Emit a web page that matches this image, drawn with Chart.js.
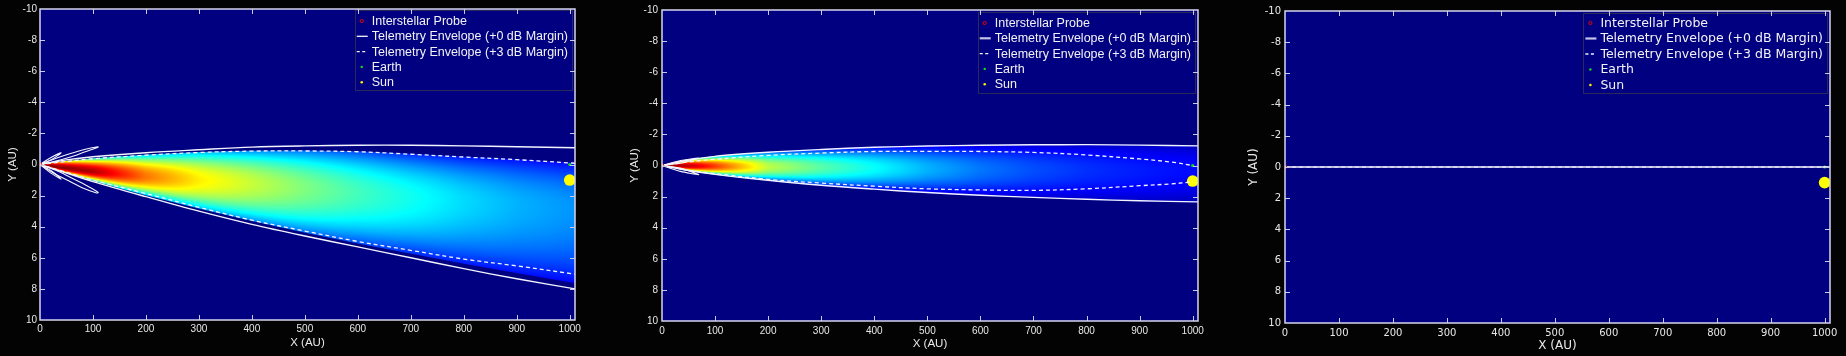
<!DOCTYPE html>
<html><head><meta charset="utf-8">
<script src="https://cdn.jsdelivr.net/npm/chart.js@4.4.1/dist/chart.umd.min.js"></script>
<style>
html,body{margin:0;padding:0;background:#030303;width:1846px;height:356px;overflow:hidden}
canvas{position:absolute;top:0}
</style></head><body>
<canvas id="c1" width="590" height="356" style="left:0px"></canvas>
<canvas id="c2" width="590" height="356" style="left:620px"></canvas>
<canvas id="c3" width="606" height="356" style="left:1240px"></canvas>
<script>
// ---------- DATA ----------
const xTickLabels = [0,100,200,300,400,500,600,700,800,900,1000];
const yTickLabels = [-10,-8,-6,-4,-2,0,2,4,6,8,10];
const legendLabels = ['Interstellar Probe','Telemetry Envelope (+0 dB Margin)','Telemetry Envelope (+3 dB Margin)','Earth','Sun'];

const envX = [0,50,100,200,300,400,500,600,700,800,900,1010];

// Panel 1
const p1SolidUpper = [0,-0.3,-0.5,-0.76,-0.95,-1.12,-1.2,-1.24,-1.24,-1.2,-1.14,-1.08];
const p1SolidLower = [0,0.55,1.1,2.07,3.0,3.85,4.6,5.3,6.0,6.7,7.35,8.0];
const p1DashUpper  = [0,-0.2,-0.37,-0.6,-0.77,-0.86,-0.87,-0.82,-0.66,-0.48,-0.31,-0.08];
const p1DashLower  = [0,0.5,1.0,1.87,2.75,3.58,4.28,4.95,5.52,6.08,6.52,7.05];
const p1FieldTop    = [0,-0.2,-0.37,-0.6,-0.77,-0.86,-0.87,-0.82,-0.66,-0.48,-0.31,-0.08];
const p1FieldBottom = [0,0.52,1.03,1.95,2.8,3.6,4.35,5.05,5.7,6.35,6.95,7.6];
const p1FieldCenter = [0,0.25,0.45,0.78,1.0,1.23,1.5,1.8,2.1,2.35,2.6,2.8];
const p1FieldPeak   = [0.99,0.98,0.95,0.76,0.64,0.57,0.5,0.44,0.39,0.34,0.3,0.27];
const p1FieldEdge   = [0.9,0.62,0.42,0.33,0.31,0.27,0.24,0.2,0.17,0.15,0.14,0.13];
const p1LobeUpBigX = [0,28,56,84,104,110,106,84,56,28,0];
const p1LobeUpBigY = [0,-0.37,-0.69,-0.97,-1.11,-1.13,-1.06,-0.8,-0.46,-0.2,0];
const p1LobeLoBigX = [0,27,54,82,104,110,106,85,57,29,0];
const p1LobeLoBigY = [0,0.58,1.05,1.53,1.8,1.82,1.7,1.3,0.82,0.36,0];
const p1LobeUpSmX = [0,20,40,22,0];
const p1LobeUpSmY = [0,-0.44,-0.75,-0.32,0];
const p1LobeLoSmX = [0,20,40,22,0];
const p1LobeLoSmY = [0,0.54,0.94,0.42,0];

// Panel 2
const p2SolidUpper = [0,-0.35,-0.59,-0.85,-1.03,-1.17,-1.25,-1.3,-1.33,-1.34,-1.31,-1.26];
const p2SolidLower = [0,0.32,0.57,0.95,1.27,1.52,1.74,1.91,2.05,2.17,2.27,2.34];
const p2DashX      = [0,50,100,200,300,400,500,600,700,800,900,960,1000];
const p2DashUpper  = [0,-0.23,-0.4,-0.65,-0.8,-0.9,-0.91,-0.9,-0.84,-0.68,-0.42,-0.22,0];
const p2DashLower  = [0,0.3,0.52,0.89,1.13,1.33,1.5,1.57,1.6,1.5,1.3,1.18,1.05];
const p2FieldTop    = [0,-0.35,-0.59,-0.85,-1.03,-1.17,-1.25,-1.3,-1.33,-1.34,-1.31,-1.26];
const p2FieldBottom = [0,0.32,0.57,0.95,1.27,1.52,1.74,1.91,2.05,2.17,2.27,2.34];
const p2FieldCenter = [0,0.03,0.06,0.1,0.12,0.16,0.2,0.24,0.27,0.3,0.32,0.33];
const p2FieldPeak   = [0.99,0.94,0.82,0.56,0.46,0.38,0.3,0.24,0.2,0.17,0.15,0.13];
const p2FieldEdge   = [0.9,0.5,0.3,0.2,0.15,0.12,0.1,0.09,0.08,0.07,0.07,0.06];
const p2LobeUpX = [0,35,69,38,0];
const p2LobeUpY = [0,-0.31,-0.48,-0.17,0];
const p2LobeLoX = [0,35,69,38,0];
const p2LobeLoY = [0,0.38,0.59,0.2,0];

// Panel 3
const p3EnvX  = [0,1010];
const p3Solid = [0,0];
const p3Dash  = [0,0];

// Bodies (same in all panels)
const probeX = [0], probeY = [0];
const earthX = [1000], earthY = [0];
const sunX = [1000], sunY = [1];

// ---------- HELPERS ----------
const pts = (xs, ys) => xs.map((x, i) => ({x: x, y: ys[i]}));
function lerp(xs, ys, X){
  if (X <= xs[0]) return ys[0];
  for (let i = 1; i < xs.length; i++) {
    if (X <= xs[i]) { const t = (X - xs[i-1]) / (xs[i] - xs[i-1]); return ys[i-1] + (ys[i] - ys[i-1]) * t; }
  }
  return ys[ys.length - 1];
}
function jet(v){
  const c = t => Math.max(0, Math.min(1, t));
  return [c(Math.min(4*v-1.5, -4*v+4.5))*255, c(Math.min(4*v-0.5, -4*v+3.5))*255, c(Math.min(4*v+0.5, -4*v+2.5))*255];
}

const beamField = {
  id: 'beamField',
  beforeDatasetsDraw(chart, args, o){
    const {ctx, chartArea: a, scales} = chart; const xs = scales.x, ys = scales.y;
    const L = Math.round(a.left), T = Math.round(a.top), W = Math.round(a.right) - L, H = Math.round(a.bottom) - T;
    const img = ctx.createImageData(W, H); const d = img.data;
    const bg = jet(0);
    const pxY = Math.abs(ys.getValueForPixel(T + 1) - ys.getValueForPixel(T));
    for (let i = 0; i < W; i++) {
      const X = xs.getValueForPixel(L + i + 0.5);
      let f = null;
      if (o && o.x && X >= o.x[0] && X <= o.x[o.x.length-1]) {
        f = {p: lerp(o.x, o.peak, X), c: lerp(o.x, o.center, X), t: lerp(o.x, o.top, X), b: lerp(o.x, o.bottom, X), e: lerp(o.x, o.edge, X)};
      }
      for (let j = 0; j < H; j++) {
        const Y = ys.getValueForPixel(T + j + 0.5);
        let col = bg;
        if (f) {
          const half = Y < f.c ? f.c - f.t : f.b - f.c;
          if (half > 1e-4) {
            const dd = Math.abs(Y - f.c) / half;
            const aa = pxY / half;
            if (dd <= 1 + aa) {
              const dc = Math.min(dd, 1);
              const v = f.e + (f.p - f.e) * (1 - dc*dc);
              const cc = jet(v);
              const k = dd <= 1 ? 1 : 1 - (dd - 1) / aa;
              col = [bg[0] + (cc[0]-bg[0])*k, bg[1] + (cc[1]-bg[1])*k, bg[2] + (cc[2]-bg[2])*k];
            }
          }
        }
        const p = (j*W + i) * 4; d[p] = col[0]; d[p+1] = col[1]; d[p+2] = col[2]; d[p+3] = 255;
      }
    }
    ctx.putImageData(img, L, T);
  }
};

const frame = {
  id: 'frame',
  afterDraw(chart, args, o){
    const {ctx, chartArea: a, scales: {x: xs, y: ys}} = chart;
    ctx.save();
    // legend
    const ds = chart.data.datasets.filter(d => d.label && !d.noLegend);
    ctx.font = o.legendFont;
    const tw = Math.max(...ds.map(d => ctx.measureText(d.label).width));
    const bw = 17 + tw + 4, bh = o.row0 + (ds.length - 1) * o.rowH + 8;
    const bx = a.right - o.inset - bw, by = a.top + o.topInset;
    ctx.fillStyle = '#000080'; ctx.fillRect(bx, by, bw, bh);
    ctx.strokeStyle = '#2a2a58'; ctx.lineWidth = 1; ctx.strokeRect(Math.round(bx)+0.5, Math.round(by)+0.5, Math.round(bw), Math.round(bh));
    ds.forEach((d, i) => {
      const yy = by + o.row0 + i * o.rowH;
      if (d.legendKind === 'line') {
        ctx.strokeStyle = d.legendColor || d.borderColor; ctx.lineWidth = d.legendWidth || 1.3;
        ctx.setLineDash(d.legendDash || []);
        ctx.beginPath(); ctx.moveTo(bx + 2, yy); ctx.lineTo(bx + 13, yy); ctx.stroke(); ctx.setLineDash([]);
      } else {
        ctx.beginPath(); ctx.arc(bx + 7, yy, d.legendR || 1.3, 0, 2*Math.PI);
        if (d.legendFill) { ctx.fillStyle = d.legendFill; ctx.fill(); }
        else { ctx.strokeStyle = d.borderColor; ctx.lineWidth = 1; ctx.stroke(); }
      }
      ctx.fillStyle = o.textColor; ctx.textBaseline = 'middle'; ctx.textAlign = 'left';
      ctx.fillText(d.label, bx + 17, yy + 0.5);
    });
    // inward ticks on all sides
    ctx.strokeStyle = '#c8c8e4'; ctx.lineWidth = 1;
    ctx.beginPath();
    xs.ticks.forEach(t => {
      const px = Math.round(xs.getPixelForValue(t.value)) + 0.5;
      if (px < a.left + 2 || px > a.right - 2) return;
      ctx.moveTo(px, a.bottom); ctx.lineTo(px, a.bottom - 5);
      ctx.moveTo(px, a.top); ctx.lineTo(px, a.top + 5);
    });
    ys.ticks.forEach(t => {
      const py = Math.round(ys.getPixelForValue(t.value)) + 0.5;
      if (py < a.top + 2 || py > a.bottom - 2) return;
      ctx.moveTo(a.left, py); ctx.lineTo(a.left + 5, py);
      ctx.moveTo(a.right, py); ctx.lineTo(a.right - 5, py);
    });
    ctx.stroke();
    // box
    ctx.strokeStyle = '#d6d6ee'; ctx.lineWidth = 1.5;
    ctx.strokeRect(a.left, a.top, a.right - a.left, a.bottom - a.top);
    ctx.restore();
  }
};

function lineDs(label, xs, ys, opts){
  return Object.assign({label: label, data: pts(xs, ys), showLine: true, pointRadius: 0, borderColor: '#f4f4ff',
    borderWidth: 1.4, fill: false, tension: 0.35, legendKind: 'line'}, opts || {});
}
function bodyDs(label, xs, ys, opts){
  return Object.assign({label: label, data: pts(xs, ys), showLine: false, legendKind: 'point'}, opts || {});
}
function bodies(){
  return [
    bodyDs(legendLabels[3], earthX, earthY, {pointRadius: 1.6, backgroundColor: '#10e010', borderWidth: 0, legendFill: '#10e010', legendR: 1.2}),
    bodyDs(legendLabels[4], sunX, sunY, {pointRadius: 5.8, backgroundColor: '#ffff00', borderWidth: 0, legendFill: '#ffee00', legendR: 1.3}),
  ];
}
function probe(){
  return bodyDs(legendLabels[0], probeX, probeY, {pointRadius: 1.8, backgroundColor: 'rgba(0,0,0,0)', borderColor: '#e00000', borderWidth: 1, legendR: 1.6});
}

function makeChart(id, datasets, L){
  const tickFont = {family: L.family, size: 10};
  const titleFont = {family: L.family, size: L.titleSize, lineHeight: 1.2};
  return new Chart(document.getElementById(id), {
    type: 'scatter',
    data: {datasets: datasets},
    options: {
      responsive: false, animation: false, devicePixelRatio: 1,
      layout: {padding: {top: L.top, right: L.right, left: 0, bottom: 0}},
      plugins: {legend: {display: false}, tooltip: {enabled: false},
        beamField: L.field,
        frame: {legendFont: '12.5px "' + L.family + '"', textColor: '#f2f2f2', row0: L.row0, rowH: L.rowH, inset: L.inset, topInset: L.topInset}},
      scales: {
        x: {type: 'linear', min: 0, max: 1010,
          afterBuildTicks: s => { s.ticks = xTickLabels.map(v => ({value: v})); },
          afterFit: s => { s.height = L.xH; },
          grid: {display: false, drawTicks: false}, border: {display: false},
          ticks: {color: '#e8e8e8', font: tickFont, padding: L.xPad, maxRotation: 0, autoSkip: false, callback: v => String(v)},
          title: {display: true, text: 'X (AU)', color: '#e8e8e8', font: titleFont, padding: {top: 0, bottom: L.xTitlePad}}},
        y: {type: 'linear', min: -10, max: 10, reverse: true,
          afterBuildTicks: s => { s.ticks = yTickLabels.map(v => ({value: v})); },
          afterFit: s => { s.width = L.yW; },
          grid: {display: false, drawTicks: false}, border: {display: false},
          ticks: {color: '#e8e8e8', font: tickFont, padding: L.yPad, autoSkip: false, callback: v => String(v)},
          title: {display: true, text: 'Y (AU)', color: '#e8e8e8', font: titleFont, padding: {top: L.yTitlePad, bottom: 0}}}
      }
    },
    plugins: [beamField, frame]
  });
}

// ---------- PANEL 1 ----------
makeChart('c1', [
  probe(),
  lineDs(legendLabels[1], envX, p1SolidUpper),
  lineDs(legendLabels[1], envX, p1SolidLower, {noLegend: true}),
  lineDs(legendLabels[2], envX, p1DashUpper, {borderDash: [4,3], borderWidth: 1.3, legendDash: [3,2.5]}),
  lineDs(legendLabels[2], envX, p1DashLower, {borderDash: [4,3], borderWidth: 1.3, noLegend: true}),
  lineDs('lobe', p1LobeUpBigX, p1LobeUpBigY, {noLegend: true, borderWidth: 1.1, tension: 0.3}),
  lineDs('lobe', p1LobeLoBigX, p1LobeLoBigY, {noLegend: true, borderWidth: 1.1, tension: 0.3}),
  lineDs('lobe', p1LobeUpSmX, p1LobeUpSmY, {noLegend: true, borderWidth: 1.1, tension: 0.3}),
  lineDs('lobe', p1LobeLoSmX, p1LobeLoSmY, {noLegend: true, borderWidth: 1.1, tension: 0.3}),
  ...bodies()
], {family: 'Liberation Sans', titleSize: 11.5, top: 8, right: 15, xH: 36, yW: 40, xPad: 3, yPad: 3,
    xTitlePad: 6, yTitlePad: 6, row0: 11, rowH: 15.3, inset: 3, topInset: 1,
    field: {x: envX, top: p1FieldTop, bottom: p1FieldBottom, center: p1FieldCenter, peak: p1FieldPeak, edge: p1FieldEdge}});

// ---------- PANEL 2 ----------
makeChart('c2', [
  probe(),
  lineDs(legendLabels[1], envX, p2SolidUpper, {legendColor: '#c4c4e6', legendWidth: 2.2}),
  lineDs(legendLabels[1], envX, p2SolidLower, {noLegend: true}),
  lineDs(legendLabels[2], p2DashX, p2DashUpper, {borderDash: [4,3], borderWidth: 1.3, legendDash: [3,2.5]}),
  lineDs(legendLabels[2], p2DashX, p2DashLower, {borderDash: [4,3], borderWidth: 1.3, noLegend: true}),
  lineDs('lobe', p2LobeUpX, p2LobeUpY, {noLegend: true, borderWidth: 1.2, tension: 0.2}),
  lineDs('lobe', p2LobeLoX, p2LobeLoY, {noLegend: true, borderWidth: 1.2, tension: 0.2}),
  ...bodies()
], {family: 'Liberation Sans', titleSize: 11.5, top: 9, right: 12, xH: 35, yW: 42, xPad: 4, yPad: 4,
    xTitlePad: 5, yTitlePad: 8, row0: 11.5, rowH: 15.3, inset: 3, topInset: 1.5,
    field: {x: envX, top: p2FieldTop, bottom: p2FieldBottom, center: p2FieldCenter, peak: p2FieldPeak, edge: p2FieldEdge}});

// ---------- PANEL 3 ----------
makeChart('c3', [
  probe(),
  lineDs(legendLabels[1], p3EnvX, p3Solid, {legendColor: '#c4c4e6', legendWidth: 2.2, borderWidth: 1.6}),
  lineDs(legendLabels[2], p3EnvX, p3Dash, {borderDash: [4,3], borderWidth: 1.2, legendDash: [3,2.5]}),
  ...bodies()
], {family: 'DejaVu Sans', titleSize: 12, top: 11, right: 16, xH: 33, yW: 45, xPad: 4, yPad: 4,
    xTitlePad: 3, yTitlePad: 7, row0: 10, rowH: 15.5, inset: 3, topInset: 2,
    field: {}});
</script>
</body></html>
